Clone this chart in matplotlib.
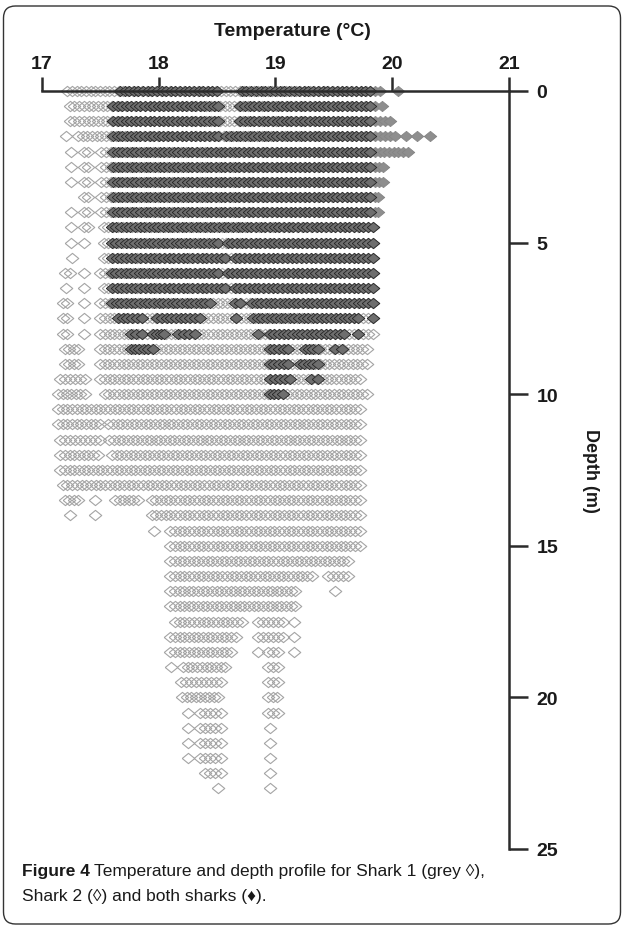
import matplotlib.pyplot as plt
import numpy as np
from matplotlib.patches import FancyBboxPatch

plt.rcParams['font.family'] = ['Liberation Sans', 'DejaVu Sans']

# resolution of the logged temperatures (deg C)
temp_step = 0.04

# runs of logged temperatures per depth bin: (depth m, first temp, last temp)
# Shark 2 only (open diamonds)
shark2_runs = [
    (0.0, 17.22, 19.81), (0.5, 17.24, 19.81), (1.0, 17.24, 19.81),
    (1.5, 17.21, 17.21), (1.5, 17.31, 19.81),
    (2.0, 17.25, 17.25), (2.0, 17.36, 17.40), (2.0, 17.51, 19.81),
    (2.5, 17.25, 17.25), (2.5, 17.36, 17.40), (2.5, 17.51, 19.81),
    (3.0, 17.25, 17.25), (3.0, 17.36, 17.40), (3.0, 17.51, 19.81),
    (3.5, 17.36, 17.40), (3.5, 17.51, 19.81),
    (4.0, 17.25, 17.25), (4.0, 17.36, 17.40), (4.0, 17.51, 19.81),
    (4.5, 17.25, 17.25), (4.5, 17.36, 17.40), (4.5, 17.53, 19.83),
    (5.0, 17.25, 17.25), (5.0, 17.36, 17.36), (5.0, 17.53, 19.83),
    (5.5, 17.26, 17.26), (5.5, 17.53, 19.83),
    (6.0, 17.20, 17.24), (6.0, 17.36, 17.36), (6.0, 17.50, 19.83),
    (6.5, 17.21, 17.21), (6.5, 17.36, 17.36), (6.5, 17.53, 19.83),
    (7.0, 17.18, 17.22), (7.0, 17.36, 17.36), (7.0, 17.50, 19.83),
    (7.5, 17.18, 17.22), (7.5, 17.36, 17.36), (7.5, 17.50, 19.83),
    (8.0, 17.18, 17.22), (8.0, 17.36, 17.36), (8.0, 17.50, 19.83),
    (8.5, 17.20, 17.31), (8.5, 17.50, 19.78),
    (9.0, 17.20, 17.31), (9.0, 17.50, 19.78),
    (9.5, 17.16, 17.37), (9.5, 17.50, 19.72),
    (10.0, 17.14, 17.37), (10.0, 17.54, 19.78),
    (10.5, 17.14, 19.72),
    (11.0, 17.14, 17.50), (11.0, 17.57, 19.72),
    (11.5, 17.16, 17.50), (11.5, 17.58, 19.72),
    (12.0, 17.16, 17.48), (12.0, 17.60, 19.72),
    (12.5, 17.16, 19.72),
    (13.0, 17.18, 19.72),
    (13.5, 17.20, 17.31), (13.5, 17.46, 17.46), (13.5, 17.63, 17.82), (13.5, 17.94, 19.72),
    (14.0, 17.24, 17.24), (14.0, 17.46, 17.46), (14.0, 17.94, 19.72),
    (14.5, 17.96, 17.96), (14.5, 18.10, 19.72),
    (15.0, 18.10, 19.72),
    (15.5, 18.10, 19.62),
    (16.0, 18.10, 19.31), (16.0, 19.45, 19.62),
    (16.5, 18.10, 19.17), (16.5, 19.51, 19.51),
    (17.0, 18.10, 19.17),
    (17.5, 18.14, 18.71), (17.5, 18.85, 19.06), (17.5, 19.16, 19.16),
    (18.0, 18.10, 18.66), (18.0, 18.85, 19.06), (18.0, 19.16, 19.16),
    (18.5, 18.10, 18.62), (18.5, 18.85, 18.85), (18.5, 18.94, 19.02), (18.5, 19.16, 19.16),
    (19.0, 18.11, 18.11), (19.0, 18.21, 18.57), (19.0, 18.94, 19.02),
    (19.5, 18.19, 18.53), (19.5, 18.94, 19.02),
    (20.0, 18.20, 18.51), (20.0, 18.94, 19.01),
    (20.5, 18.25, 18.25), (20.5, 18.35, 18.53), (20.5, 18.94, 19.02),
    (21.0, 18.25, 18.25), (21.0, 18.35, 18.53), (21.0, 18.95, 18.95),
    (21.5, 18.25, 18.25), (21.5, 18.35, 18.53), (21.5, 18.95, 18.95),
    (22.0, 18.25, 18.25), (22.0, 18.35, 18.53), (22.0, 18.95, 18.95),
    (22.5, 18.40, 18.53), (22.5, 18.95, 18.95),
    (23.0, 18.51, 18.51), (23.0, 18.95, 18.95),
]

# Shark 1 only (grey filled diamonds)
shark1_runs = [
    (0.0, 19.85, 19.89), (0.0, 20.05, 20.05),
    (0.5, 19.85, 19.91),
    (1.0, 19.85, 19.98),
    (1.5, 19.85, 20.02), (1.5, 20.12, 20.12), (1.5, 20.21, 20.21), (1.5, 20.32, 20.32),
    (2.0, 19.85, 20.13),
    (2.5, 19.85, 19.92),
    (3.0, 19.85, 19.92),
    (3.5, 19.85, 19.88),
    (4.0, 19.85, 19.88),
]

# both sharks (dark filled diamonds)
both_runs = [
    (0.0, 17.67, 18.50), (0.0, 18.71, 19.81),
    (0.5, 17.61, 18.51), (0.5, 18.70, 19.81),
    (1.0, 17.61, 18.51), (1.0, 18.70, 19.81),
    (1.5, 17.61, 18.51), (1.5, 18.58, 19.81),
    (2.0, 17.61, 19.81), (2.5, 17.61, 19.81), (3.0, 17.61, 19.81),
    (3.5, 17.61, 19.81), (4.0, 17.61, 19.81),
    (4.5, 17.60, 19.83),
    (5.0, 17.60, 18.51), (5.0, 18.59, 19.83),
    (5.5, 17.60, 18.57), (5.5, 18.65, 19.83),
    (6.0, 17.60, 18.51), (6.0, 18.59, 19.83),
    (6.5, 17.60, 18.57), (6.5, 18.65, 19.83),
    (7.0, 17.60, 18.44), (7.0, 18.65, 18.70), (7.0, 18.80, 19.83),
    (7.5, 17.65, 17.86), (7.5, 17.99, 18.35), (7.5, 18.66, 18.66),
    (7.5, 18.81, 19.71), (7.5, 19.83, 19.83),
    (8.0, 17.76, 17.86), (8.0, 17.95, 18.05), (8.0, 18.17, 18.31),
    (8.0, 18.85, 18.85), (8.0, 18.95, 19.59), (8.0, 19.71, 19.71),
    (8.5, 17.76, 17.95), (8.5, 18.95, 19.11), (8.5, 19.25, 19.36), (8.5, 19.51, 19.57),
    (9.0, 18.95, 19.11), (9.0, 19.21, 19.36),
    (9.5, 18.95, 19.12), (9.5, 19.30, 19.36),
    (10.0, 18.95, 19.06),
]


def expand(runs):
    # turn each run into the individual logged readings
    temps, depths = [], []
    for depth, t0, t1 in runs:
        n = int(round((t1 - t0) / temp_step)) + 1
        temps.extend(np.linspace(t0, t1, n))
        depths.extend([depth] * n)
    return np.array(temps), np.array(depths)


# closed diamond outline, a little wider than tall
diamond = [(-1, 0), (0, 0.82), (1, 0), (0, -0.82), (-1, 0)]

fig = plt.figure(figsize=(6.24, 9.28), dpi=100)
ax = fig.add_axes([0.0668, 0.0841, 0.7494, 0.8168])

t, d = expand(shark2_runs)
ax.plot(t, d, ls="none", marker=diamond, ms=9, mfc="none", mec="#a4a4a4", mew=0.8, clip_on=False)
t, d = expand(shark1_runs)
ax.plot(t, d, ls="none", marker=diamond, ms=9, mfc="#8e8e8e", mec="#858585", mew=0.6, clip_on=False)
t, d = expand(both_runs)
ax.plot(t, d, ls="none", marker=diamond, ms=9, mfc="#6e6e6e", mec="#262626", mew=0.6, clip_on=False)

ax.set_xlim(17, 21)
ax.set_ylim(25, 0)
ax.xaxis.tick_top()
ax.yaxis.tick_right()
ax.set_xticks(range(17, 22))
ax.set_yticks(range(0, 26, 5))
for side in ["left", "bottom"]:
    ax.spines[side].set_visible(False)
for side in ["top", "right"]:
    ax.spines[side].set_linewidth(1.8)
    ax.spines[side].set_color("#2b2b2b")
ax.tick_params(axis="x", direction="out", length=10, width=1.8, pad=4, labelsize=14, color="#2b2b2b")
ax.tick_params(axis="y", direction="out", length=13.5, width=1.8, pad=6, labelsize=14, color="#2b2b2b")
for lab in ax.get_xticklabels() + ax.get_yticklabels():
    lab.set_fontweight("bold")
    lab.set_color("#1a1a1a")

fig.text(292 / 624, 1 - 32 / 928, "Temperature (°C)", ha="center", va="center",
         fontsize=14, fontweight="bold", color="#1a1a1a")
fig.text(590 / 624, 1 - 471 / 928, "Depth (m)", ha="center", va="center", rotation=-90,
         fontsize=13, fontweight="bold", color="#1a1a1a")

# caption: bold figure number followed by regular text
renderer = fig.canvas.get_renderer()
cap_y1 = 1 - 872 / 928
cap_y2 = 1 - 897 / 928
head = fig.text(22 / 624, cap_y1, "Figure 4", ha="left", va="center", fontsize=12.5,
                fontweight="bold", color="#1a1a1a")
bb = head.get_window_extent(renderer=renderer)
fig.text((bb.x1 + 4) / 624, cap_y1, "Temperature and depth profile for Shark 1 (grey ◊),",
         ha="left", va="center", fontsize=12.5, color="#1a1a1a")
fig.text(22 / 624, cap_y2, "Shark 2 (◊) and both sharks (♦).", ha="left", va="center",
         fontsize=12.5, color="#1a1a1a")

frame = FancyBboxPatch((3.5, 3), 617, 918, boxstyle="round,pad=0,rounding_size=12",
                       transform=None, fill=False, edgecolor="#333333", linewidth=1.0)
fig.add_artist(frame)

fig.savefig("out.png", dpi=100)
